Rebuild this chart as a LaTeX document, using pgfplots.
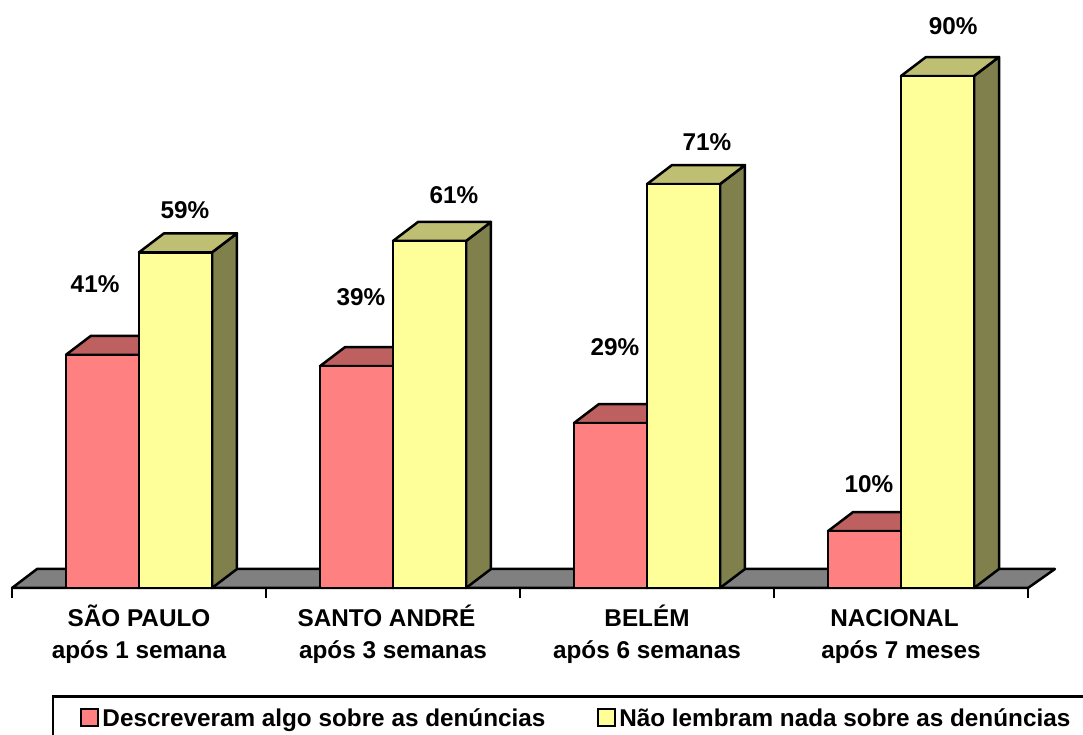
\documentclass[border=0pt]{standalone}
\usepackage{fontspec}
\setmainfont{Liberation Sans}
\usepackage{pgfplots}
\pgfplotsset{compat=1.18}

\definecolor{pinkfront}{HTML}{FF8080}
\definecolor{pinktop}{HTML}{BF6060}
\definecolor{yellowfront}{HTML}{FFFF99}
\definecolor{yellowtop}{HTML}{BFBF73}
\definecolor{yellowside}{HTML}{80804D}
\definecolor{floorgrey}{HTML}{808080}

\newcommand{\lblfont}{\fontsize{24.3}{32}\selectfont\bfseries}
\newcommand{\toprule}{\rule{0pt}{24pt}}

% one 3D bar: left x, value, front colour, top colour
% width 0.2874 = 73px, depth 0.0984/3.34 = 25px/19px
\newcommand{\barthreed}[4]{%
  \pgfmathsetmacro{\xr}{#1+0.2874}%
  \pgfmathsetmacro{\xbl}{#1+0.0984}%
  \pgfmathsetmacro{\xbr}{#1+0.2874+0.0984}%
  \pgfmathsetmacro{\yb}{#2+3.34}%
  \addplot[forget plot,draw=black,line width=2.5pt,line join=round,fill=yellowside]
    coordinates {(\xr,0)(\xbr,3.34)(\xbr,\yb)(\xr,#2)} -- cycle;
  \addplot[forget plot,draw=black,line width=2.5pt,line join=round,fill=#4]
    coordinates {(#1,#2)(\xr,#2)(\xbr,\yb)(\xbl,\yb)} -- cycle;
  \addplot[forget plot,draw=black,line width=2.5pt,line join=round,fill=#3]
    coordinates {(#1,0)(\xr,0)(\xr,#2)(#1,#2)} -- cycle;
}

\begin{document}
\begin{tikzpicture}
\path[use as bounding box] (-12pt,-147pt) rectangle (1071pt,588pt);
\begin{axis}[
  scale only axis,
  width=1016pt,
  height=512pt,
  xmin=0, xmax=4,
  ymin=0, ymax=90,
  clip=false,
  axis x line=bottom,
  axis y line=none,
  x axis line style={-,line width=2.5pt},
  xtick={0.5,1.5,2.5,3.5},
  xticklabels={
    {\toprule SÃO PAULO\\após 1 semana},
    {\toprule SANTO ANDRÉ\hspace*{13pt}\\após 3 semanas},
    {\toprule BELÉM\\após 6 semanas},
    {\toprule NACIONAL\hspace*{13pt}\\após 7 meses}},
  xticklabel style={align=center,font=\lblfont,yshift=-11pt},
  minor xtick={0,1,2,3,4},
  major tick length=0pt,
  minor tick length=10pt,
  tick align=outside,
  tick style={black,line width=2.5pt},
  legend style={
    at={(0.03937,-0.2090)},
    anchor=north west,
    draw=black,
    line width=2.5pt,
    inner xsep=27pt,
    inner ysep=10pt,
    font=\lblfont,
    legend columns=2,
    /tikz/every even column/.append style={column sep=49.5pt},
  },
  legend cell align=left,
  legend image code/.code={\draw[#1,line width=2pt] (0pt,-8.5pt) rectangle (17pt,8.5pt); \path (18pt,0pt);},
]
% floor
\addplot[forget plot,draw=black,line width=2.5pt,line join=round,fill=floorgrey]
  coordinates {(0,0)(4,0)(4.106,3.34)(0.0984,3.34)} -- cycle;

% SAO PAULO
\barthreed{0.2126}{41}{pinkfront}{pinktop}
\barthreed{0.5}{59}{yellowfront}{yellowtop}
% SANTO ANDRE
\barthreed{1.2126}{39}{pinkfront}{pinktop}
\barthreed{1.5}{61}{yellowfront}{yellowtop}
% BELEM
\barthreed{2.2126}{29}{pinkfront}{pinktop}
\barthreed{2.5}{71}{yellowfront}{yellowtop}
% NACIONAL
\barthreed{3.2126}{10}{pinkfront}{pinktop}
\barthreed{3.5}{90}{yellowfront}{yellowtop}

\addlegendimage{fill=pinkfront,draw=black}
\addlegendentry{Descreveram algo sobre as denúncias}
\addlegendimage{fill=yellowfront,draw=black}
\addlegendentry{Não lembram nada sobre as denúncias}

% data labels, placed where the chart has them
\node[font=\lblfont] at (axis cs:0.327,53.4) {41\%};
\node[font=\lblfont] at (axis cs:0.681,66.5) {59\%};
\node[font=\lblfont] at (axis cs:1.374,51.2) {39\%};
\node[font=\lblfont] at (axis cs:1.740,69.0) {61\%};
\node[font=\lblfont] at (axis cs:2.374,42.3) {29\%};
\node[font=\lblfont] at (axis cs:2.736,78.4) {71\%};
\node[font=\lblfont] at (axis cs:3.374,18.2) {10\%};
\node[font=\lblfont] at (axis cs:3.705,98.8) {90\%};
\end{axis}
\end{tikzpicture}
\end{document}
